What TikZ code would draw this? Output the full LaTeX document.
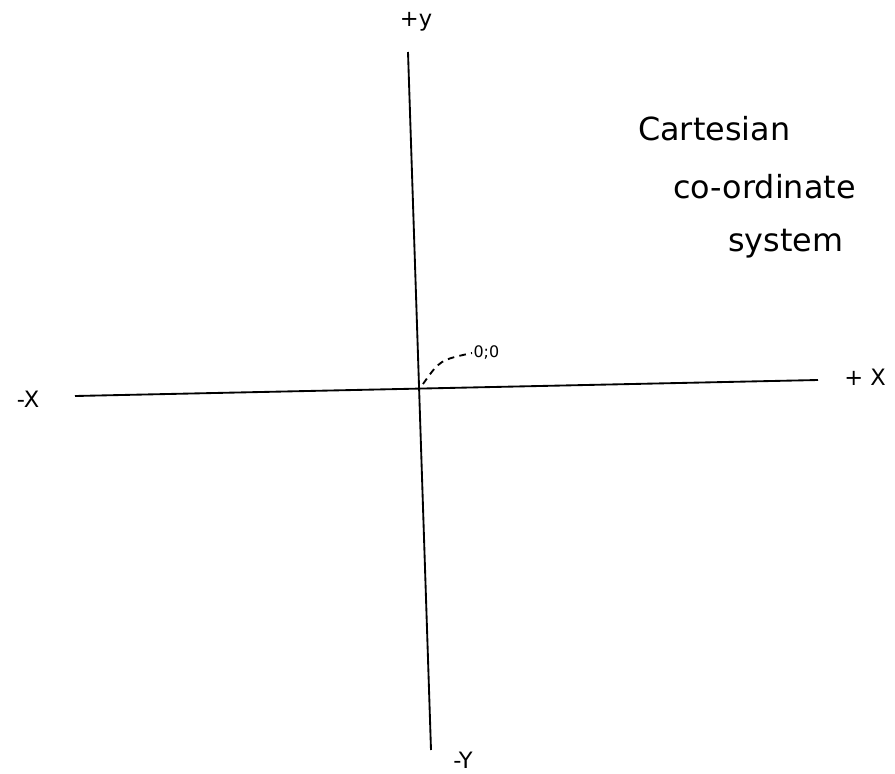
\documentclass[tikz,border=0pt]{standalone}
\usepackage{fontspec}
\setmainfont{DejaVu Sans}
\usetikzlibrary{positioning}

\begin{document}
\begin{tikzpicture}[
  x=0.0265cm, y=-0.0265cm,
  axis/.style = {line width=1.4pt, draw=black},
  axlabel/.style = {font=\fontsize{17}{20}\selectfont, inner sep=1pt},
  note/.style = {font=\fontsize{24}{28}\selectfont, anchor=west, inner sep=0pt},
  leader/.style = {line width=1.4pt, dash pattern=on 5pt off 4pt},
]
  \useasboundingbox (0,0) rectangle (895,774);

  % axis end points and origin
  \coordinate (xl) at (75,396);
  \coordinate (xr) at (818,380);
  \coordinate (yt) at (408,52);
  \coordinate (yb) at (431,750);
  \coordinate (o) at (423,384);

  \draw[axis] (xl) -- (xr);
  \draw[axis] (yt) -- (yb);

  % axis labels
  \node[axlabel] (lxl) at (28,399) {-X};
  \node[axlabel] (lxr) at (865,377) {+ X};
  \node[axlabel] (lyt) at (416,22) {+y};
  \node[axlabel] (lyb) at (463,760) {-Y};

  % origin label with dashed leader
  \node[axlabel, anchor=west, font=\fontsize{12}{14}\selectfont] (orig) at (472,353) {0;0};
  \draw[leader] (o) .. controls (440,360) .. (orig.west);

  % title note
  \node[note] (cart) at (638,129) {Cartesian};
  \node[note] (coord) at (673,187) {co-ordinate};
  \node[note] (sys) at (728,244) {system};
\end{tikzpicture}
\end{document}
